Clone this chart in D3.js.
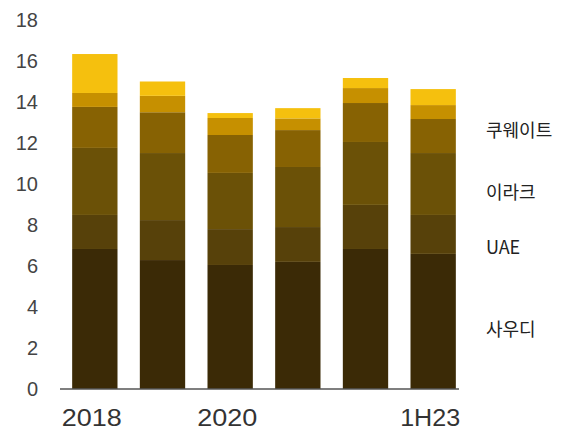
<!DOCTYPE html>
<html>
<head>
<meta charset="utf-8">
<script src="https://cdn.jsdelivr.net/npm/d3@7"></script>
<style>
  body { margin: 0; background: #fff; }
</style>
</head>
<body>
<div id="chart"></div>
<script>
// categories and stacked series
const years = ["2018", "2019", "2020", "2021", "2022", "1H23"];
const shownYears = ["2018", "2020", "1H23"];
const saudi  = [6.83, 6.29, 6.05, 6.20, 6.83, 6.59];
const uae    = [1.66, 1.95, 1.75, 1.70, 2.15, 1.90];
const iraq   = [3.27, 3.27, 2.74, 2.93, 3.07, 3.02];
const kuwait = [2.00, 1.99, 1.85, 1.80, 1.90, 1.66];
const other1 = [0.68, 0.80, 0.83, 0.57, 0.73, 0.68];
const other2 = [1.90, 0.70, 0.24, 0.50, 0.49, 0.78];
const seriesNames = ["사우디", "UAE", "이라크", "쿠웨이트", "기타1", "기타2"];
const colors = ["#3b2a06", "#57410a", "#6b5107", "#876203", "#c69000", "#f5c00e"];
const yTicks = [0, 2, 4, 6, 8, 10, 12, 14, 16, 18];
// labels on the right, with their height in data units
const labelNames = ["쿠웨이트", "이라크", "UAE", "사우디"];
const labelAt = [12.6, 9.6, 6.9, 2.9];

const width = 563, height = 430;

const svg = d3.select("#chart").append("svg")
  .attr("width", width)
  .attr("height", height);

const x = d3.scaleBand()
  .domain(years)
  .range([61, 467])
  .paddingInner(0.33)
  .paddingOuter(0.165);

const y = d3.scaleLinear()
  .domain([0, 18])
  .range([389, 20]);

// build rows for d3.stack
const allSeries = [saudi, uae, iraq, kuwait, other1, other2];
const rows = years.map((yr, i) => {
  const r = { year: yr };
  seriesNames.forEach((n, j) => r[n] = allSeries[j][i]);
  return r;
});
const stacked = d3.stack().keys(seriesNames)(rows);

svg.append("g")
  .selectAll("g")
  .data(stacked)
  .join("g")
  .attr("fill", (d, i) => colors[i])
  .selectAll("rect")
  .data(d => d)
  .join("rect")
  .attr("x", d => x(d.data.year))
  .attr("width", x.bandwidth())
  .attr("y", d => y(d[1]))
  .attr("height", d => y(d[0]) - y(d[1]));

// y axis labels, no line, no ticks
const yAxis = svg.append("g")
  .attr("transform", "translate(38,0)")
  .call(d3.axisLeft(y).tickValues(yTicks).tickSize(0).tickPadding(0));
yAxis.select(".domain").remove();
yAxis.selectAll("text")
  .attr("font-family", "Liberation Sans, Arial, sans-serif")
  .attr("font-size", 20)
  .attr("fill", "#444");

// x baseline
svg.append("line")
  .attr("x1", 60).attr("x2", 459)
  .attr("y1", y(0)).attr("y2", y(0))
  .attr("stroke", "#555")
  .attr("stroke-width", 1.5);

// x labels (only some years)
const xAxis = svg.append("g")
  .attr("transform", `translate(-3,${y(0)})`)
  .call(d3.axisBottom(x).tickValues(shownYears).tickSize(0).tickPadding(21));
xAxis.select(".domain").remove();
xAxis.selectAll("text")
  .attr("font-family", "Liberation Sans, Arial, sans-serif")
  .attr("font-size", 23)
  .attr("fill", "#333")
  .attr("textLength", 60)
  .attr("lengthAdjust", "spacingAndGlyphs");

// series labels on the right
svg.append("g")
  .selectAll("text")
  .data(labelNames)
  .join("text")
  .attr("x", 486)
  .attr("y", (d, i) => y(labelAt[i]))
  .attr("dy", "0.35em")
  .attr("font-family", "Noto Sans CJK KR, sans-serif")
  .attr("font-size", 18)
  .attr("fill", "#222")
  .text(d => d);
</script>
</body>
</html>
